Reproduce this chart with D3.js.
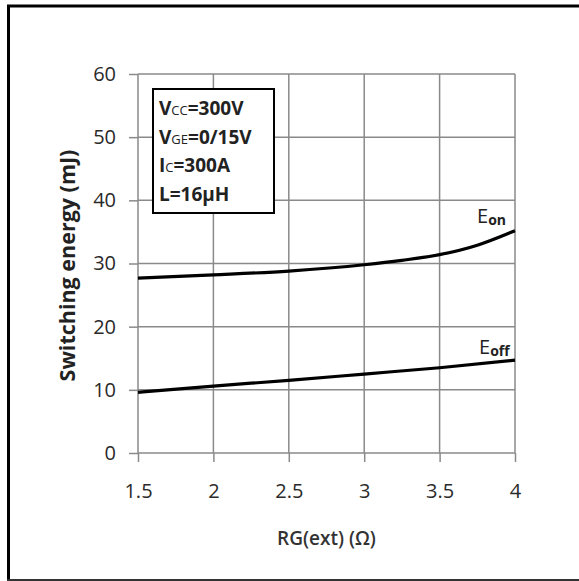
<!DOCTYPE html>
<html>
<head>
<meta charset="utf-8">
<script src="https://cdn.jsdelivr.net/npm/d3@7"></script>
<style>
  html, body { margin: 0; padding: 0; background: #fff; }
  svg { display: block; }
</style>
</head>
<body>
<svg id="chart" width="579" height="581"></svg>
<script>
// ---- data ----
const rgValues   = [1.5, 2, 2.5, 3, 3.25, 3.5, 3.75, 4];
const eonValues  = [27.7, 28.2, 28.8, 29.8, 30.5, 31.4, 32.9, 35.2];
const rgOff      = [1.5, 2, 2.5, 3, 3.5, 4];
const eoffValues = [9.6, 10.6, 11.5, 12.5, 13.5, 14.7];
const xTicks = [1.5, 2, 2.5, 3, 3.5, 4];
const yTicks = [0, 10, 20, 30, 40, 50, 60];
const conditions = [
  ["V", "CC", "=300V"],
  ["V", "GE", "=0/15V"],
  ["I", "C", "=300A"],
  ["L=16µH", "", ""]
];

const svg = d3.select("#chart");
const font = "'Open Sans', 'DejaVu Sans', sans-serif";

// outer frame
svg.append("line").attr("x1", 8.5).attr("x2", 8.5).attr("y1", 5).attr("y2", 581)
  .attr("stroke", "#000").attr("stroke-width", 3);
svg.append("line").attr("x1", 7).attr("x2", 579).attr("y1", 6).attr("y2", 6)
  .attr("stroke", "#000").attr("stroke-width", 3);
svg.append("line").attr("x1", 7).attr("x2", 579).attr("y1", 580).attr("y2", 580)
  .attr("stroke", "#333").attr("stroke-width", 2);

const x = d3.scaleLinear().domain([1.5, 4]).range([138, 515]);
const y = d3.scaleLinear().domain([0, 60]).range([453, 74]);

const gridColor = "#8a8a8a";

// grid
svg.append("g").selectAll("line").data(xTicks).join("line")
  .attr("x1", d => x(d)).attr("x2", d => x(d))
  .attr("y1", y(60)).attr("y2", y(0))
  .attr("stroke", gridColor).attr("stroke-width", 1.5);
svg.append("g").selectAll("line").data(yTicks).join("line")
  .attr("x1", x(1.5)).attr("x2", x(4))
  .attr("y1", d => y(d)).attr("y2", d => y(d))
  .attr("stroke", gridColor).attr("stroke-width", 1.5);

// axes
const xAxis = svg.append("g").attr("transform", `translate(0,${y(0)})`)
  .call(d3.axisBottom(x).tickValues(xTicks).tickSize(9).tickPadding(22)
    .tickFormat(d => String(d)));
const yAxis = svg.append("g").attr("transform", `translate(${x(1.5)},0)`)
  .call(d3.axisLeft(y).tickValues(yTicks).tickSize(9).tickPadding(13));
[xAxis, yAxis].forEach(a => {
  a.select(".domain").remove();
  a.selectAll(".tick line").attr("stroke", gridColor).attr("stroke-width", 1.5);
  a.selectAll(".tick text").attr("fill", "#2a2a2a").style("font-family", font)
    .style("font-size", "20px");
});

// curves
const line = d3.line().x(d => x(d[0])).y(d => y(d[1])).curve(d3.curveMonotoneX);
svg.append("path").datum(d3.zip(rgValues, eonValues))
  .attr("d", line).attr("fill", "none").attr("stroke", "#000").attr("stroke-width", 3.2);
svg.append("path").datum(d3.zip(rgOff, eoffValues))
  .attr("d", line).attr("fill", "none").attr("stroke", "#000").attr("stroke-width", 3.2);

// curve labels
function subLabel(px, py, main, sub) {
  const t = svg.append("text").attr("x", px).attr("y", py)
    .style("font-family", font).style("font-size", "20px").attr("fill", "#222");
  t.append("tspan").text(main);
  t.append("tspan").text(sub).style("font-size", "14px").style("font-weight", "bold").attr("dy", 2);
}
subLabel(477, 223, "E", "on");
subLabel(479, 354, "E", "off");

// conditions box
svg.append("rect").attr("x", 153).attr("y", 89).attr("width", 121).attr("height", 124)
  .attr("fill", "#fff").attr("stroke", "#000").attr("stroke-width", 2);
conditions.forEach((c, i) => {
  const t = svg.append("text").attr("x", 159).attr("y", 115 + i * 28.5)
    .style("font-family", font).style("font-weight", "bold").style("font-size", "19px")
    .attr("fill", "#222");
  t.append("tspan").text(c[0]);
  if (c[1]) t.append("tspan").text(c[1]).style("font-size", "13px").style("font-weight", "normal");
  if (c[2]) t.append("tspan").text(c[2]);
});

// axis titles
svg.append("text").attr("transform", `translate(75,${(y(0) + y(60)) / 2 + 2}) rotate(-90)`)
  .attr("text-anchor", "middle").style("font-family", font).style("font-weight", "bold")
  .style("font-size", "21.5px").attr("fill", "#222").text("Switching energy (mJ)");
svg.append("text").attr("x", (x(1.5) + x(4)) / 2).attr("y", 545)
  .attr("text-anchor", "middle").style("font-family", font).style("font-weight", "600")
  .style("font-size", "19px").attr("fill", "#333").text("RG(ext) (Ω)");
</script>
</body>
</html>
